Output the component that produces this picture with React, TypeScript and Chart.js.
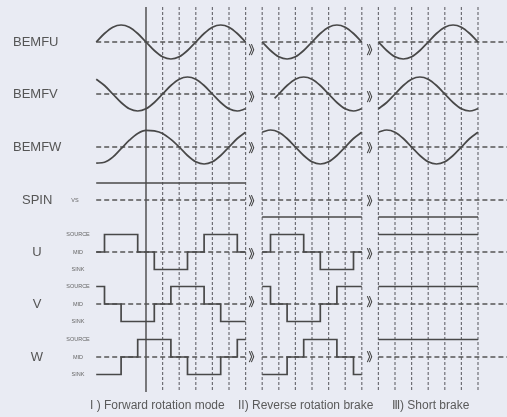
import React, { useEffect, useRef } from "react";
import { Chart, registerables } from "chart.js";
Chart.register(...registerables);

// ---------- DATA (time in grid units, 1 unit = 60 electrical degrees) ----------
const gridTicks = [0, 1, 2, 3, 4, 5, 6, 7, 8, 9, 10, 11, 12, 13, 14, 15, 16, 17, 18, 19, 20];
const solidTick = 0;

// Section I : forward rotation mode
const xsI = [-3, -2.5, -2, -1.5, -1, -0.5, 0, 0.5, 1, 1.5, 2, 2.5, 3, 3.5, 4, 4.5, 5, 5.5, 6];
const bemfU_I = [0, 0.5, 0.87, 1, 0.87, 0.5, 0, -0.5, -0.87, -1, -0.87, -0.5, 0, 0.5, 0.87, 1, 0.87, 0.5, 0];
const bemfV_I = [0.87, 0.5, 0, -0.5, -0.87, -1, -0.87, -0.5, 0, 0.5, 0.87, 1, 0.87, 0.5, 0, -0.5, -0.87, -1, -0.87];
const bemfW_I = [-0.95, -0.9, -0.6, -0.1, 0.4, 0.8, 0.98, 0.95, 0.8, 0.45, 0, -0.5, -0.87, -1, -0.87, -0.5, 0, 0.5, 0.87];

// Section II : reverse rotation brake
const xsII = [7, 7.5, 8, 8.5, 9, 9.5, 10, 10.5, 11, 11.5, 12, 12.5, 13];
const xsIIv = [7.75, 8, 8.5, 9, 9.5, 10, 10.5, 11, 11.5, 12, 12.5, 13];
const bemfU_II = [0, -0.5, -0.87, -1, -0.87, -0.5, 0, 0.5, 0.87, 1, 0.87, 0.5, 0];
const bemfV_II = [-0.26, 0, 0.5, 0.87, 1, 0.87, 0.5, 0, -0.5, -0.87, -1, -0.87];
const bemfW_II = [0.87, 1, 0.87, 0.5, 0, -0.5, -0.87, -1, -0.87, -0.5, 0, 0.5, 0.87];

// Section III : short brake
const xsIII = [14, 14.5, 15, 15.5, 16, 16.5, 17, 17.5, 18, 18.5, 19, 19.5, 20];
const bemfU_III = [0, -0.5, -0.87, -1, -0.87, -0.5, 0, 0.5, 0.87, 1, 0.87, 0.5, 0];
const bemfV_III = [-0.87, -0.5, 0, 0.5, 0.87, 1, 0.87, 0.5, 0, -0.5, -0.87, -1, -0.87];
const bemfW_III = [0.87, 1, 0.87, 0.5, 0, -0.5, -0.87, -1, -0.87, -0.5, 0, 0.5, 0.87];

// SPIN level (1 above VS, -1 below VS): [start, end, level]
const spinSegments: [number, number, number][] = [[-3, 6, 1], [7, 13, -1], [14, 20, -1]];

// Drive states: level 1 = SOURCE, 0 = MID, -1 = SINK; each holds until the next time
const driveU_t = [[-3, -2.5, -0.5, 0.5, 2.5, 3.5, 5.5, 6], [7, 7.5, 9.5, 10.5, 12.5, 13], [14, 20]];
const driveU_v = [[0, 1, 0, -1, 0, 1, 0, 0], [0, 1, 0, -1, 0, 0], [1, 1]];
const driveV_t = [[-3, -2.5, -1.5, 0.5, 1.5, 3.5, 4.5, 6], [7, 7.5, 8.5, 10.5, 11.5, 13], [14, 20]];
const driveV_v = [[1, 0, -1, 0, 1, 0, -1, -1], [1, 0, -1, 0, 1, 1], [1, 1]];
const driveW_t = [[-3, -1.5, -0.5, 1.5, 2.5, 4.5, 5.5, 6], [7, 8.5, 9.5, 11.5, 12.5, 13], [14, 20]];
const driveW_v = [[-1, 0, 1, 0, -1, 0, 1, 1], [-1, 0, 1, 0, -1, -1], [1, 1]];

// baseline (dashed reference) spans per section
const baselineSpans: [number, number][] = [[-3, 6], [7, 13], [14, 21.8]];

// Texts
const rowLabels = ["BEMFU", "BEMFV", "BEMFW", "SPIN", "U", "V", "W"];
const levelLabels = ["SOURCE", "MID", "SINK"];
const spinRefLabel = "VS";
const modeLabels = ["I ) Forward rotation mode", "II) Reverse rotation brake", "\u2162) Short brake"];
const breakMark = "\u300B";
const breakTimes = [6.3, 13.4];

// ---------- LAYOUT ----------
const CW = 507, CH = 417;
const X0 = 146, UNIT = 16.6;
const rowBase = [42, 94, 147, 200, 252, 304, 357];
const BEMF_AMP = 17, SPIN_AMP = 17, DRIVE_AMP = 17.5;
const gridTop = 7, gridBottom = 392;
const breakY = [50, 97, 148, 201, 254, 302, 357];
const modeX = [90, 238, 392];
const modeY = 406;

const INK = "#484848";
const LINE_W = 1.7;

function sine(xs: number[], vs: number[], row: number) {
  return {
    data: xs.map((x, i) => ({ x, y: rowBase[row] - vs[i] * BEMF_AMP })),
    borderColor: INK, borderWidth: LINE_W, pointRadius: 0, cubicInterpolationMode: "monotone" as const, order: 0,
  };
}
function steps(ts: number[], vs: number[], row: number, amp: number) {
  return {
    data: ts.map((x, i) => ({ x, y: rowBase[row] - vs[i] * amp })),
    borderColor: INK, borderWidth: LINE_W, pointRadius: 0, stepped: "before" as const, order: 0,
  };
}

function buildDatasets() {
  const ds: any[] = [];
  gridTicks.forEach((t) => {
    const solid = t === solidTick;
    ds.push({
      data: [{ x: t, y: gridTop }, { x: t, y: gridBottom }],
      borderColor: solid ? INK : "#6f6f76", borderWidth: solid ? 1.4 : 1.2,
      borderDash: solid ? [] : [3, 2], pointRadius: 0, order: 2,
    });
  });
  rowBase.forEach((_, r) => {
    baselineSpans.forEach(([a, b]) => {
      ds.push({
        data: [{ x: a, y: rowBase[r] }, { x: b, y: rowBase[r] }],
        borderColor: "#555", borderWidth: 1.5, borderDash: [5, 3], pointRadius: 0, order: 1,
      });
    });
  });
  ds.push(sine(xsI, bemfU_I, 0), sine(xsII, bemfU_II, 0), sine(xsIII, bemfU_III, 0));
  ds.push(sine(xsI, bemfV_I, 1), sine(xsIIv, bemfV_II, 1), sine(xsIII, bemfV_III, 1));
  ds.push(sine(xsI, bemfW_I, 2), sine(xsII, bemfW_II, 2), sine(xsIII, bemfW_III, 2));
  spinSegments.forEach(([a, b, l]) => ds.push(steps([a, b], [l, l], 3, SPIN_AMP)));
  for (let s = 0; s < 3; s++) {
    ds.push(steps(driveU_t[s], driveU_v[s], 4, DRIVE_AMP));
    ds.push(steps(driveV_t[s], driveV_v[s], 5, DRIVE_AMP));
    ds.push(steps(driveW_t[s], driveW_v[s], 6, DRIVE_AMP));
  }
  return ds;
}

const bgPlugin = {
  id: "bg",
  beforeDraw(chart: any) {
    const { ctx } = chart;
    ctx.save();
    ctx.fillStyle = "#e9ebf3";
    ctx.fillRect(0, 0, chart.width, chart.height);
    ctx.restore();
  },
};

const textPlugin = {
  id: "texts",
  afterDatasetsDraw(chart: any) {
    const { ctx } = chart;
    const xs = chart.scales.x, ys = chart.scales.y;
    ctx.save();
    ctx.fillStyle = "#555";
    ctx.textBaseline = "middle";
    ctx.font = "13px 'Liberation Sans', Arial, sans-serif";
    rowLabels.forEach((lab, i) => {
      const y = ys.getPixelForValue(rowBase[i]);
      if (i < 3) { ctx.textAlign = "left"; ctx.fillText(lab, 13, y); }
      else if (i === 3) { ctx.textAlign = "left"; ctx.fillText(lab, 22, y); }
      else { ctx.textAlign = "center"; ctx.fillText(lab, 37, y); }
    });
    ctx.font = "5.5px 'Liberation Sans', Arial, sans-serif";
    ctx.fillStyle = "#666";
    ctx.textAlign = "center";
    for (let r = 4; r < 7; r++) {
      [1, 0, -1].forEach((lv, k) => {
        ctx.fillText(levelLabels[k], 78, ys.getPixelForValue(rowBase[r] - lv * DRIVE_AMP));
      });
    }
    ctx.fillText(spinRefLabel, 75, ys.getPixelForValue(rowBase[3]));
    ctx.fillStyle = "#444";
    ctx.font = "bold 12px 'Noto Sans CJK SC', sans-serif";
    breakTimes.forEach((t) => {
      breakY.forEach((y) => ctx.fillText(breakMark, xs.getPixelForValue(t) + 4, ys.getPixelForValue(y)));
    });
    ctx.fillStyle = "#5a5a5a";
    ctx.textAlign = "left";
    ctx.font = "12px 'Liberation Sans', Arial, sans-serif";
    modeLabels.forEach((m, i) => ctx.fillText(m, modeX[i], modeY));
    ctx.restore();
  },
};

export default function App() {
  const ref = useRef<HTMLCanvasElement>(null);
  useEffect(() => {
    const chart = new Chart(ref.current!, {
      type: "line",
      data: { datasets: buildDatasets() },
      options: {
        animation: false,
        responsive: false,
        devicePixelRatio: 1,
        layout: { padding: 0 },
        plugins: { legend: { display: false }, tooltip: { enabled: false } },
        scales: {
          x: { type: "linear", display: false, min: -X0 / UNIT, max: (CW - X0) / UNIT },
          y: { type: "linear", display: false, min: 0, max: CH, reverse: true },
        },
        elements: { line: { fill: false } },
      },
      plugins: [bgPlugin, textPlugin],
    });
    return () => chart.destroy();
  }, []);
  return (
    <div style={{ position: "fixed", left: 0, top: 0, width: CW, height: CH }}>
      <canvas ref={ref} width={CW} height={CH} style={{ display: "block" }} />
    </div>
  );
}
